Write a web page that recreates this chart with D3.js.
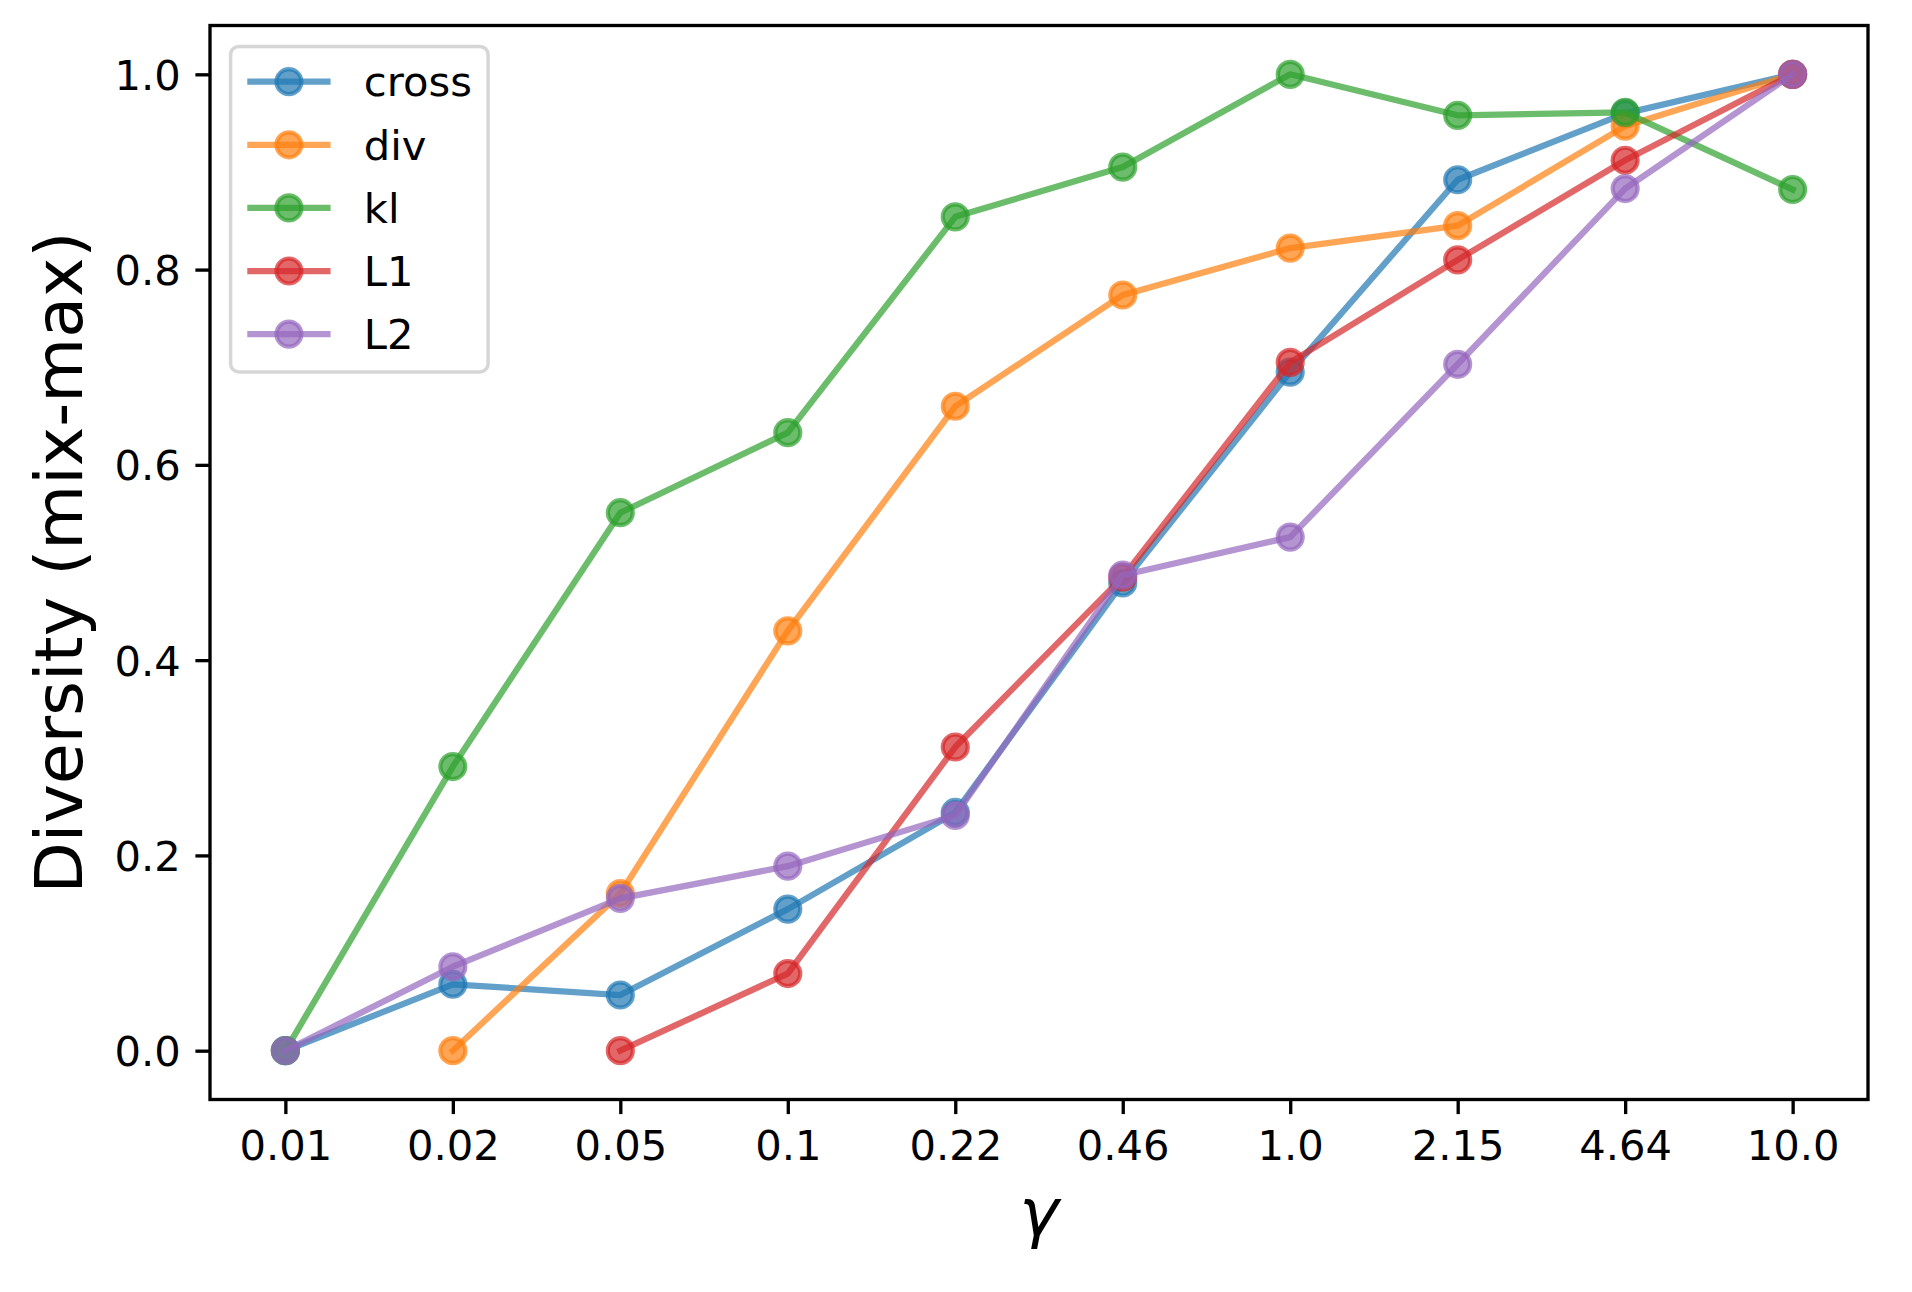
<!DOCTYPE html>
<html>
<head>
<meta charset="utf-8">
<script src="https://cdn.jsdelivr.net/npm/d3@7"></script>
<style>
  html, body { margin: 0; padding: 0; background: #ffffff; }
  svg { display: block; }
  text { font-family: "DejaVu Sans", sans-serif; fill: #000; }
</style>
</head>
<body>
<svg id="chart" width="1912" height="1292"></svg>
<script>
// ---------------- data ----------------
const gammaLabels = ["0.01", "0.02", "0.05", "0.1", "0.22", "0.46", "1.0", "2.15", "4.64", "10.0"];
const seriesNames = ["cross", "div", "kl", "L1", "L2"];
const crossValues = [0.0, 0.068, 0.057, 0.145, 0.244, 0.479, 0.695, 0.892, 0.960, 1.0];
const divValues   = [null, 0.0, 0.161, 0.430, 0.660, 0.774, 0.822, 0.845, 0.947, 1.0];
const klValues    = [0.0, 0.291, 0.551, 0.633, 0.854, 0.905, 1.0, 0.958, 0.961, 0.882];
const l1Values    = [null, null, 0.0, 0.079, 0.311, 0.485, 0.705, 0.810, 0.912, 1.0];
const l2Values    = [0.0, 0.086, 0.156, 0.189, 0.241, 0.487, 0.526, 0.703, 0.883, 1.0];
const yTicks = [0.0, 0.2, 0.4, 0.6, 0.8, 1.0];
const seriesColors = ["#1f77b4", "#ff7f0e", "#2ca02c", "#d62728", "#9467bd"];
const xLabelText = "γ";
const yLabelText = "Diversity (mix-max)";

const allSeries = [crossValues, divValues, klValues, l1Values, l2Values].map((vals, i) => ({
  name: seriesNames[i],
  color: seriesColors[i],
  points: vals.map((v, j) => ({ label: gammaLabels[j], value: v }))
}));

// ---------------- layout ----------------
const plot = { left: 210, right: 1868, top: 25.5, bottom: 1099.5 };
const FS = 41.67;       // 10pt @ 300dpi
const FS_LABEL = 66.67; // 16pt @ 300dpi
const LW = 6.25, MR = 12.5, MEW = 4.17, ALPHA = 0.7;
const SPINE = 3.33, TICK_LEN = 14.6, TICK_PAD = 14.6;

const svg = d3.select("#chart");

const x = d3.scalePoint().domain(gammaLabels).range([plot.left, plot.right]).padding(0.45);
const y = d3.scaleLinear().domain([-0.05, 1.05]).range([plot.bottom, plot.top]);

// ---------------- series ----------------
const line = d3.line()
  .defined(d => d.value !== null)
  .x(d => x(d.label))
  .y(d => y(d.value));

const seriesG = svg.append("g");
allSeries.forEach(s => {
  const g = seriesG.append("g");
  g.append("path")
    .attr("d", line(s.points))
    .attr("fill", "none")
    .attr("stroke", s.color)
    .attr("stroke-width", LW)
    .attr("stroke-opacity", ALPHA)
    .attr("stroke-linejoin", "round")
    .attr("stroke-linecap", "square");
  g.selectAll("circle")
    .data(s.points.filter(d => d.value !== null))
    .join("circle")
    .attr("cx", d => x(d.label))
    .attr("cy", d => y(d.value))
    .attr("r", MR)
    .attr("fill", s.color)
    .attr("fill-opacity", ALPHA)
    .attr("stroke", s.color)
    .attr("stroke-opacity", ALPHA)
    .attr("stroke-width", MEW);
});

// ---------------- axes ----------------
const xAxis = d3.axisBottom(x).tickSize(TICK_LEN).tickPadding(TICK_PAD);
const gx = svg.append("g").attr("transform", `translate(0,${plot.bottom})`).call(xAxis);
gx.select(".domain").remove();
gx.selectAll(".tick line").attr("stroke", "#000").attr("stroke-width", SPINE);
gx.selectAll(".tick text")
  .attr("font-family", "DejaVu Sans")
  .attr("font-size", FS)
  .attr("dy", "0.76em")
  .attr("fill", "#000");

const yAxis = d3.axisLeft(y).tickValues(yTicks).tickFormat(d3.format(".1f"))
  .tickSize(TICK_LEN).tickPadding(TICK_PAD);
const gy = svg.append("g").attr("transform", `translate(${plot.left},0)`).call(yAxis);
gy.select(".domain").remove();
gy.selectAll(".tick line").attr("stroke", "#000").attr("stroke-width", SPINE);
gy.selectAll(".tick text")
  .attr("font-family", "DejaVu Sans")
  .attr("font-size", FS)
  .attr("dy", "0.36em")
  .attr("fill", "#000");

// frame
svg.append("rect")
  .attr("x", plot.left).attr("y", plot.top)
  .attr("width", plot.right - plot.left).attr("height", plot.bottom - plot.top)
  .attr("fill", "none").attr("stroke", "#000").attr("stroke-width", SPINE)
  .attr("stroke-linejoin", "miter");

// axis labels
svg.append("text")
  .attr("x", (plot.left + plot.right) / 2)
  .attr("y", 1234.5)
  .attr("text-anchor", "middle")
  .attr("font-size", FS_LABEL)
  .attr("font-style", "italic")
  .text(xLabelText);

svg.append("text")
  .attr("transform", `translate(81.5,${(plot.top + plot.bottom) / 2}) rotate(-90)`)
  .attr("text-anchor", "middle")
  .attr("font-size", FS_LABEL)
  .text(yLabelText);

// ---------------- legend ----------------
const leg = { x: 230.6, y: 46.4, w: 257.5, h: 325.6, firstRow: 35.3, rowStep: 63.1,
              pad: 16.67, handleLen: 83.3, textPad: 33.3 };
const lg = svg.append("g");
lg.append("rect")
  .attr("x", leg.x).attr("y", leg.y).attr("width", leg.w).attr("height", leg.h)
  .attr("rx", 8.3).attr("ry", 8.3)
  .attr("fill", "#ffffff").attr("fill-opacity", 0.8)
  .attr("stroke", "#cccccc").attr("stroke-opacity", 0.8).attr("stroke-width", 3.5);

allSeries.forEach((s, i) => {
  const cy = leg.y + leg.firstRow + i * leg.rowStep;
  const x0 = leg.x + leg.pad, x1 = x0 + leg.handleLen;
  lg.append("line")
    .attr("x1", x0).attr("x2", x1).attr("y1", cy).attr("y2", cy)
    .attr("stroke", s.color).attr("stroke-width", LW).attr("stroke-opacity", ALPHA);
  lg.append("circle")
    .attr("cx", (x0 + x1) / 2).attr("cy", cy).attr("r", MR)
    .attr("fill", s.color).attr("fill-opacity", ALPHA)
    .attr("stroke", s.color).attr("stroke-opacity", ALPHA).attr("stroke-width", MEW);
  lg.append("text")
    .attr("x", x1 + leg.textPad).attr("y", cy + 14.7)
    .attr("font-size", FS)
    .text(s.name);
});
</script>
</body>
</html>
